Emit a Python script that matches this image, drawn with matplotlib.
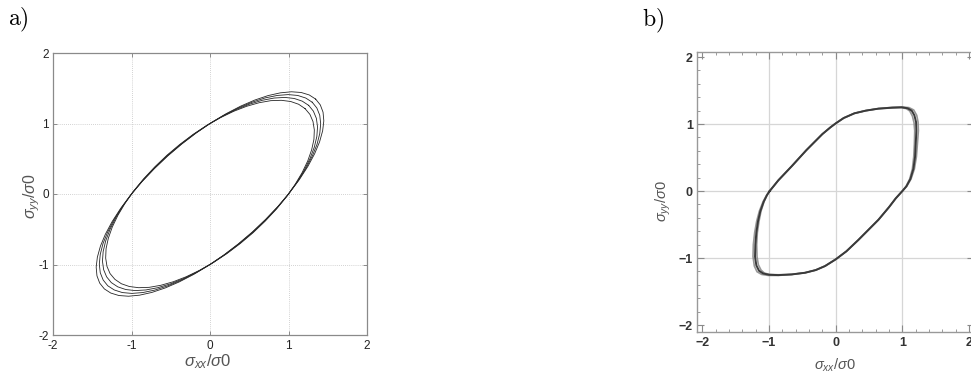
import matplotlib
matplotlib.use("Agg")
import matplotlib.pyplot as plt
from matplotlib.ticker import MultipleLocator

plt.rcParams["font.family"] = ["Liberation Sans", "DejaVu Sans"]
plt.rcParams["mathtext.fontset"] = "custom"
plt.rcParams["mathtext.rm"] = "Liberation Sans"
plt.rcParams["mathtext.it"] = "Liberation Sans:italic"
plt.rcParams["mathtext.bf"] = "Liberation Sans:bold"

# ---- panel a): four nearly elliptical loops (sigma_xx/sigma0, sigma_yy/sigma0)
a1_x = [1.346, 1.264, 1.161, 1.038, 0.897, 0.740, 0.571, 0.392, 0.207, 0.018, -0.172, -0.358,
        -0.539, -0.710, -0.869, -1.013, -1.140, -1.247, -1.333, -1.396, -1.435, -1.450, -1.440, -1.405,
        -1.346, -1.264, -1.161, -1.038, -0.897, -0.740, -0.571, -0.392, -0.207, -0.018, 0.172, 0.358,
        0.539, 0.710, 0.869, 1.013, 1.140, 1.247, 1.333, 1.396, 1.435, 1.450, 1.440, 1.405]
a1_y = [1.346, 1.405, 1.440, 1.450, 1.435, 1.396, 1.333, 1.247, 1.140, 1.013, 0.869, 0.710,
        0.539, 0.358, 0.172, -0.018, -0.207, -0.392, -0.571, -0.740, -0.897, -1.038, -1.161, -1.264,
        -1.346, -1.405, -1.440, -1.450, -1.435, -1.396, -1.333, -1.247, -1.140, -1.013, -0.869, -0.710,
        -0.539, -0.358, -0.172, 0.018, 0.207, 0.392, 0.571, 0.740, 0.897, 1.038, 1.161, 1.264]
a2_x = [1.302, 1.220, 1.117, 0.996, 0.857, 0.703, 0.538, 0.363, 0.182, -0.002, -0.186, -0.367,
        -0.542, -0.707, -0.860, -0.999, -1.120, -1.222, -1.303, -1.363, -1.398, -1.410, -1.398, -1.361,
        -1.302, -1.220, -1.117, -0.996, -0.857, -0.703, -0.538, -0.363, -0.182, 0.002, 0.186, 0.367,
        0.542, 0.707, 0.860, 0.999, 1.120, 1.222, 1.303, 1.363, 1.398, 1.410, 1.398, 1.361]
a2_y = [1.302, 1.361, 1.398, 1.410, 1.398, 1.363, 1.303, 1.222, 1.120, 0.999, 0.860, 0.707,
        0.542, 0.367, 0.186, 0.002, -0.182, -0.363, -0.538, -0.703, -0.857, -0.996, -1.117, -1.220,
        -1.302, -1.361, -1.398, -1.410, -1.398, -1.363, -1.303, -1.222, -1.120, -0.999, -0.860, -0.707,
        -0.542, -0.367, -0.186, -0.002, 0.182, 0.363, 0.538, 0.703, 0.857, 0.996, 1.117, 1.220]
a3_x = [1.257, 1.175, 1.073, 0.953, 0.816, 0.665, 0.503, 0.333, 0.157, -0.023, -0.201, -0.376,
        -0.545, -0.704, -0.852, -0.985, -1.101, -1.198, -1.274, -1.329, -1.361, -1.370, -1.355, -1.317,
        -1.257, -1.175, -1.073, -0.953, -0.816, -0.665, -0.503, -0.333, -0.157, 0.023, 0.201, 0.376,
        0.545, 0.704, 0.852, 0.985, 1.101, 1.198, 1.274, 1.329, 1.361, 1.370, 1.355, 1.317]
a3_y = [1.257, 1.317, 1.355, 1.370, 1.361, 1.329, 1.274, 1.198, 1.101, 0.985, 0.852, 0.704,
        0.545, 0.376, 0.201, 0.023, -0.157, -0.333, -0.503, -0.665, -0.816, -0.953, -1.073, -1.175,
        -1.257, -1.317, -1.355, -1.370, -1.361, -1.329, -1.274, -1.198, -1.101, -0.985, -0.852, -0.704,
        -0.545, -0.376, -0.201, -0.023, 0.157, 0.333, 0.503, 0.665, 0.816, 0.953, 1.073, 1.175]
a4_x = [1.211, 1.129, 1.028, 0.909, 0.775, 0.627, 0.469, 0.302, 0.130, -0.044, -0.217, -0.386,
        -0.549, -0.702, -0.844, -0.971, -1.081, -1.173, -1.245, -1.295, -1.324, -1.329, -1.312, -1.273,
        -1.211, -1.129, -1.028, -0.909, -0.775, -0.627, -0.469, -0.302, -0.130, 0.044, 0.217, 0.386,
        0.549, 0.702, 0.844, 0.971, 1.081, 1.173, 1.245, 1.295, 1.324, 1.329, 1.312, 1.273]
a4_y = [1.211, 1.273, 1.312, 1.329, 1.324, 1.295, 1.245, 1.173, 1.081, 0.971, 0.844, 0.702,
        0.549, 0.386, 0.217, 0.044, -0.130, -0.302, -0.469, -0.627, -0.775, -0.909, -1.028, -1.129,
        -1.211, -1.273, -1.312, -1.329, -1.324, -1.295, -1.245, -1.173, -1.081, -0.971, -0.844, -0.702,
        -0.549, -0.386, -0.217, -0.044, 0.130, 0.302, 0.469, 0.627, 0.775, 0.909, 1.028, 1.129]

# ---- panel b): rounded-parallelogram loops (main trace + two neighbouring cycles)
b1_x = [-0.99, -0.86, -0.66, -0.44, -0.20, -0.08, 0.00, 0.12, 0.28, 0.45, 0.64, 0.85, 0.99, 1.08,
        1.14, 1.18, 1.205, 1.21, 1.20, 1.19, 1.165, 1.12, 1.06,
        1.00, 0.90, 0.80, 0.64, 0.34, 0.16, 0.00, -0.16, -0.30, -0.46, -0.66, -0.86, -1.00, -1.09,
        -1.15, -1.19, -1.21, -1.205, -1.19, -1.165, -1.13, -1.08, -1.03]
b1_y = [0.00, 0.16, 0.37, 0.61, 0.85, 0.95, 1.01, 1.09, 1.16, 1.20, 1.23, 1.245, 1.25, 1.235,
        1.20, 1.13, 1.03, 0.90, 0.70, 0.51, 0.33, 0.18, 0.07,
        0.00, -0.11, -0.24, -0.43, -0.73, -0.90, -1.02, -1.12, -1.18, -1.22, -1.245, -1.255, -1.25,
        -1.23, -1.19, -1.11, -0.98, -0.80, -0.62, -0.45, -0.30, -0.16, -0.06]
b2_x = [-0.99, -0.86, -0.66, -0.44, -0.20, -0.08, 0.00, 0.12, 0.28, 0.45, 0.64, 0.85, 1.00, 1.10,
        1.17, 1.215, 1.235, 1.24, 1.225, 1.21, 1.18, 1.13, 1.065,
        1.00, 0.90, 0.80, 0.64, 0.34, 0.16, 0.00, -0.16, -0.30, -0.46, -0.66, -0.86, -1.01, -1.11,
        -1.18, -1.22, -1.24, -1.235, -1.215, -1.185, -1.145, -1.09, -1.035]
b2_y = [0.00, 0.16, 0.37, 0.61, 0.85, 0.95, 1.01, 1.09, 1.16, 1.20, 1.23, 1.25, 1.255, 1.245,
        1.21, 1.13, 1.03, 0.90, 0.70, 0.51, 0.33, 0.18, 0.07,
        0.00, -0.11, -0.24, -0.43, -0.73, -0.90, -1.02, -1.12, -1.18, -1.22, -1.245, -1.26, -1.26,
        -1.245, -1.205, -1.12, -0.98, -0.80, -0.62, -0.45, -0.30, -0.16, -0.06]
b3_x = [-0.99, -0.86, -0.66, -0.44, -0.20, -0.08, 0.00, 0.12, 0.28, 0.45, 0.64, 0.85, 0.98, 1.06,
        1.11, 1.15, 1.175, 1.185, 1.18, 1.17, 1.15, 1.11, 1.055,
        1.00, 0.90, 0.80, 0.64, 0.34, 0.16, 0.00, -0.16, -0.30, -0.46, -0.66, -0.86, -0.99, -1.07,
        -1.12, -1.16, -1.18, -1.185, -1.175, -1.15, -1.12, -1.075, -1.03]
b3_y = [0.00, 0.16, 0.37, 0.61, 0.85, 0.95, 1.01, 1.09, 1.16, 1.20, 1.23, 1.24, 1.245, 1.23,
        1.195, 1.12, 1.02, 0.90, 0.70, 0.51, 0.33, 0.18, 0.07,
        0.00, -0.11, -0.24, -0.43, -0.73, -0.90, -1.02, -1.12, -1.18, -1.22, -1.245, -1.25, -1.245,
        -1.225, -1.18, -1.10, -0.98, -0.80, -0.62, -0.45, -0.30, -0.16, -0.06]

TICKS = [-2, -1, 0, 1, 2]
A_TICKLABELS = ["-2", "-1", "0", "1", "2"]
B_TICKLABELS = ["\u22122", "\u22121", "0", "1", "2"]
GRID_AT = [-1, 0, 1]

W, H = 971, 374


def closed(xs, ys):
    return list(xs) + [xs[0]], list(ys) + [ys[0]]


def fig_box(x0, y0, x1, y1):
    # pixel box (top-left origin) -> figure fraction rect
    return [x0 / W, 1 - y1 / H, (x1 - x0) / W, (y1 - y0) / H]


fig = plt.figure(figsize=(W / 100, H / 100), dpi=100)

# ---------------- a) MATLAB-like panel
ax = fig.add_axes(fig_box(53, 53, 367, 335))
for v in GRID_AT:
    ax.axvline(v, color="#c4c4c4", lw=0.6, ls=(0, (1, 1.5)), zorder=0)
    ax.axhline(v, color="#c4c4c4", lw=0.6, ls=(0, (1, 1.5)), zorder=0)
for xs, ys in [(a1_x, a1_y), (a2_x, a2_y), (a3_x, a3_y), (a4_x, a4_y)]:
    ax.plot(*closed(xs, ys), color="#262626", lw=0.6)
ax.set_xlim(-2, 2)
ax.set_ylim(-2, 2)
ax.set_xticks(TICKS, A_TICKLABELS)
ax.set_yticks(TICKS, A_TICKLABELS)
ax.tick_params(direction="in", length=3, width=0.7, color="#8a8a8a", top=True, right=True,
               labelsize=8.5, labelcolor="#222222")
ax.tick_params(axis="x", pad=3.5)
ax.tick_params(axis="y", pad=3)
for s in ax.spines.values():
    s.set_color("#8a8a8a")
    s.set_linewidth(0.9)
fig.text(208 / W, 1 - 362 / H, r"$\sigma_{xx}/\sigma0$", fontsize=12, color="#555555",
         ha="center", va="center")
fig.text(32 / W, 1 - 196 / H, r"$\sigma_{yy}/\sigma0$", fontsize=11.5, color="#555555",
         ha="center", va="center", rotation=90)

# ---------------- b) Mathematica-like panel
bx = fig.add_axes(fig_box(697, 51.7, 974.4, 331.7))
for v in GRID_AT:
    bx.axvline(v, color="#d6d6d6", lw=0.9, zorder=0)
    bx.axhline(v, color="#d6d6d6", lw=0.9, zorder=0)
for xs, ys in [(b2_x, b2_y), (b3_x, b3_y)]:
    bx.plot(*closed(xs, ys), color="#8c8c8c", lw=1.2, alpha=0.9)
bx.plot(*closed(b1_x, b1_y), color="#3a3a3a", lw=1.4)
bx.set_xlim(-2.08, 2.08)
bx.set_ylim(-2.1, 2.08)
bx.set_xticks(TICKS, B_TICKLABELS)
bx.set_yticks(TICKS, B_TICKLABELS)
bx.xaxis.set_minor_locator(MultipleLocator(0.2))
bx.yaxis.set_minor_locator(MultipleLocator(0.2))
bx.tick_params(which="major", direction="in", length=5, width=0.8, color="#8a8a8a",
               top=True, right=True, labelsize=9, labelcolor="#333333")
bx.tick_params(which="minor", direction="in", length=2.5, width=0.6, color="#8a8a8a",
               top=True, right=True)
bx.tick_params(axis="x", which="major", pad=3.5)
bx.tick_params(axis="y", which="major", pad=3)
for lab in bx.get_xticklabels() + bx.get_yticklabels():
    lab.set_fontweight("bold")
for s in bx.spines.values():
    s.set_color("#999999")
    s.set_linewidth(1.0)
fig.text(835 / W, 1 - 365 / H, r"$\sigma_{xx}/\sigma0$", fontsize=10.5, color="#555555",
         ha="center", va="center")
fig.text(663 / W, 1 - 201 / H, r"$\sigma_{yy}/\sigma0$", fontsize=10.5, color="#555555",
         ha="center", va="center", rotation=90)

# panel letters (Computer Modern look)
fig.text(8 / W, 1 - 25 / H, r"$\mathrm{a)}$", fontsize=17, math_fontfamily="cm",
         ha="left", va="baseline")
fig.text(642 / W, 1 - 26 / H, r"$\mathrm{b)}$", fontsize=17, math_fontfamily="cm",
         ha="left", va="baseline")

fig.savefig("out.png", dpi=100)
plt.close(fig)
